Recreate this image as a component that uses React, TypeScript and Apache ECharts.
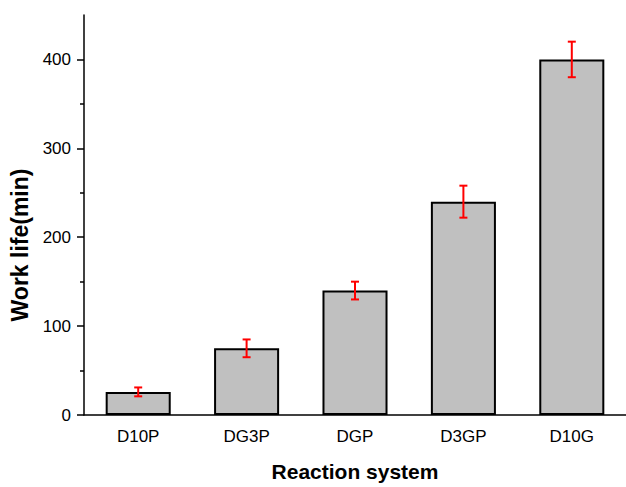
import React, { useEffect, useRef } from "react";
import * as echarts from "echarts";

const categories = ["D10P", "DG3P", "DGP", "D3GP", "D10G"];
const workLife = [26, 75, 140, 240, 400];
const errors = [5, 10, 10, 18, 20];
const majorTicks = [0, 100, 200, 300, 400];
const minorTicks = [50, 150, 250, 350];

const FONT = 'Arial, "Liberation Sans", sans-serif';

export default function App() {
  const ref = useRef<HTMLDivElement>(null);
  useEffect(() => {
    if (!ref.current) return;
    const chart = echarts.init(ref.current, null, { renderer: "svg" });
    const errData = workLife.map((v, i) => [i, v - errors[i], v + errors[i]]);
    chart.setOption({
      animation: false,
      backgroundColor: "#fff",
      grid: { left: 84, top: 15, width: 550, bottom: 64 },
      xAxis: {
        type: "category",
        data: categories,
        name: "Reaction system",
        nameLocation: "middle",
        nameGap: 46,
        nameTextStyle: { fontFamily: FONT, fontWeight: "bold", fontSize: 21, color: "#000" },
        axisLine: { lineStyle: { color: "#000", width: 1.5 } },
        axisTick: { alignWithLabel: true, length: 6, lineStyle: { color: "#000", width: 1.5 } },
        axisLabel: { fontFamily: FONT, fontSize: 17, color: "#000", margin: 13 },
      },
      yAxis: [
        {
          type: "value",
          min: 0,
          max: 450,
          interval: 100,
          splitLine: { show: false },
          axisLine: { show: true, lineStyle: { color: "#000", width: 1.5 } },
          axisTick: { show: true, length: 7, customValues: majorTicks, lineStyle: { color: "#000", width: 1.5 } },
          axisLabel: { customValues: majorTicks, fontFamily: FONT, fontSize: 17, color: "#000", margin: 13 },
        },
        {
          type: "value",
          min: 0,
          max: 450,
          position: "left",
          splitLine: { show: false },
          axisLine: { show: false },
          axisLabel: { show: false },
          axisTick: { show: true, length: 4, customValues: minorTicks, lineStyle: { color: "#000", width: 1.5 } },
        },
      ],
      graphic: [
        {
          type: "text",
          x: 20,
          y: 245,
          rotation: Math.PI / 2,
          style: {
            text: "Work life(min)",
            fontFamily: FONT,
            fontWeight: "bold",
            fontSize: 23,
            fill: "#000",
            align: "center",
            verticalAlign: "middle",
          },
        },
      ],
      series: [
        {
          type: "bar",
          data: workLife,
          barWidth: "60%",
          itemStyle: { color: "#c0c0c0", borderColor: "#000", borderWidth: 2 },
        },
        {
          type: "custom",
          data: errData,
          z: 10,
          renderItem: (params: any, api: any) => {
            const x = api.value(0);
            const lo = api.coord([x, api.value(1)]);
            const hi = api.coord([x, api.value(2)]);
            const cap = 4;
            const style = { stroke: "#ff0000", lineWidth: 2 };
            return {
              type: "group",
              children: [
                { type: "line", shape: { x1: lo[0], y1: lo[1], x2: hi[0], y2: hi[1] }, style },
                { type: "line", shape: { x1: lo[0] - cap, y1: lo[1], x2: lo[0] + cap, y2: lo[1] }, style },
                { type: "line", shape: { x1: hi[0] - cap, y1: hi[1], x2: hi[0] + cap, y2: hi[1] }, style },
              ],
            };
          },
        },
      ],
    });
    return () => chart.dispose();
  }, []);
  return (
    <div
      ref={ref}
      style={{ position: "absolute", left: 0, top: 0, width: 626, height: 487 }}
    />
  );
}
